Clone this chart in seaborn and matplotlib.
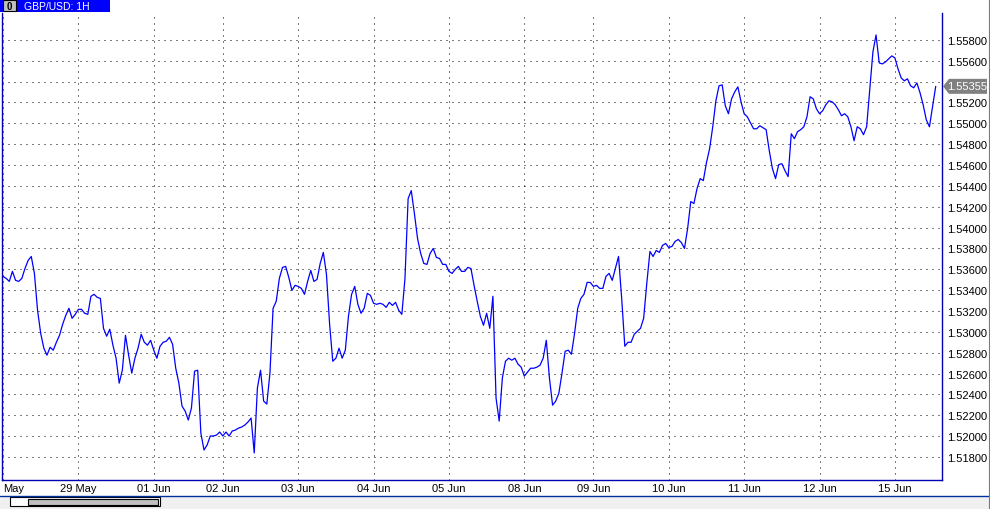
# %% GBP/USD 1H chart, terminal style
import numpy as np
import pandas as pd
import matplotlib
matplotlib.use('Agg')
import matplotlib.pyplot as plt
import seaborn as sns
from matplotlib.patches import Rectangle, Polygon
from matplotlib.transforms import IdentityTransform

# %% Hourly closes, one list per trading day
d2805 = [1.53532, 1.53513, 1.53484, 1.53580, 1.53494, 1.53484, 1.53513, 1.53608,
         1.53685, 1.53723, 1.53561, 1.53207, 1.52986, 1.52843, 1.52776, 1.52852,
         1.52824, 1.52900, 1.52967, 1.53073, 1.53159, 1.53226, 1.53130, 1.53168]
d2905 = [1.53216, 1.53216, 1.53178, 1.53168, 1.53341, 1.53360, 1.53331, 1.53321,
         1.53034, 1.52958, 1.53025, 1.52872, 1.52747, 1.52508, 1.52632, 1.52967,
         1.52776, 1.52604, 1.52747, 1.52843, 1.52977, 1.52900, 1.52872, 1.52919]
d0106 = [1.52824, 1.52747, 1.52862, 1.52900, 1.52910, 1.52948, 1.52881, 1.52651,
         1.52508, 1.52288, 1.52240, 1.52154, 1.52269, 1.52623, 1.52632, 1.52029,
         1.51867, 1.51915, 1.52001, 1.52001, 1.52010, 1.52039]
d0206 = [1.52001, 1.52039, 1.52001, 1.52049, 1.52058, 1.52077, 1.52087, 1.52106,
         1.52135, 1.52173, 1.51838, 1.52460, 1.52632, 1.52336, 1.52307, 1.52604,
         1.53226, 1.53293, 1.53513, 1.53618, 1.53628, 1.53522, 1.53398, 1.53446]
d0306 = [1.53436, 1.53417, 1.53360, 1.53484, 1.53589, 1.53484, 1.53503, 1.53656,
         1.53762, 1.53551, 1.53073, 1.52718, 1.52747, 1.52843, 1.52747, 1.52824,
         1.53149, 1.53360, 1.53436, 1.53264, 1.53178, 1.53226, 1.53369, 1.53350]
d0406 = [1.53274, 1.53264, 1.53274, 1.53264, 1.53235, 1.53283, 1.53254, 1.53283,
         1.53207, 1.53168, 1.53513, 1.54278, 1.54355, 1.54135, 1.53896, 1.53752,
         1.53656, 1.53647, 1.53752, 1.53800, 1.53714, 1.53704, 1.53647, 1.53647]
d0506 = [1.53580, 1.53561, 1.53599, 1.53628, 1.53580, 1.53580, 1.53618, 1.53608,
         1.53446, 1.53293, 1.53149, 1.53063, 1.53178, 1.53034, 1.53341, 1.52364,
         1.52144, 1.52556, 1.52718, 1.52747, 1.52728, 1.52747, 1.52690, 1.52661]
d0806 = [1.52575, 1.52613, 1.52651, 1.52651, 1.52661, 1.52680, 1.52747, 1.52919,
         1.52556, 1.52297, 1.52336, 1.52412, 1.52604, 1.52814, 1.52824, 1.52785,
         1.52986, 1.53226, 1.53321, 1.53360, 1.53474, 1.53474]
d0906 = [1.53436, 1.53446, 1.53417, 1.53417, 1.53532, 1.53561, 1.53494, 1.53608,
         1.53723, 1.53321, 1.52862, 1.52900, 1.52900, 1.52977, 1.53006, 1.53034,
         1.53130, 1.53465, 1.53771, 1.53723, 1.53781, 1.53762, 1.53829, 1.53848]
d1006 = [1.53809, 1.53819, 1.53867, 1.53886, 1.53857, 1.53800, 1.53991, 1.54250,
         1.54231, 1.54374, 1.54470, 1.54451, 1.54623, 1.54757, 1.54967, 1.55216,
         1.55360, 1.55369, 1.55168, 1.55092, 1.55235, 1.55302, 1.55350, 1.55207]
d1106 = [1.55092, 1.55063, 1.55006, 1.54948, 1.54948, 1.54977, 1.54958, 1.54939,
         1.54738, 1.54566, 1.54470, 1.54604, 1.54613, 1.54546, 1.54489, 1.54900,
         1.54853, 1.54920, 1.54939, 1.54967, 1.55063, 1.55255, 1.55235, 1.55140]
d1206 = [1.55092, 1.55121, 1.55178, 1.55216, 1.55207, 1.55178, 1.55130, 1.55073,
         1.55092, 1.55063, 1.54967, 1.54833, 1.54967, 1.54948, 1.54891, 1.54967,
         1.55331, 1.55685, 1.55848, 1.55580, 1.55570, 1.55589, 1.55618, 1.55647]
d1506 = [1.55628, 1.55522, 1.55436, 1.55408, 1.55427, 1.55360, 1.55341, 1.55388,
         1.55293, 1.55178, 1.55034, 1.54967, 1.55159, 1.55355]

days = [d2805, d2905, d0106, d0206, d0306, d0406, d0506, d0806, d0906, d1006, d1106, d1206, d1506]
day_labels = ['May', '29 May', '01 Jun', '02 Jun', '03 Jun', '04 Jun', '05 Jun',
              '08 Jun', '09 Jun', '10 Jun', '11 Jun', '12 Jun', '15 Jun']
price_ticks = np.arange(1.518, 1.5581, 0.002)

close = np.concatenate(days)
df = pd.DataFrame({'bar': np.arange(len(close)), 'close': close})
day_starts = np.cumsum([0] + [len(d) for d in days[:-1]])

# %% Figure
W, H = 990, 510
sns.set_style('white')
plt.rcParams['font.family'] = ['Liberation Sans', 'DejaVu Sans']

fig = plt.figure(figsize=(W / 100, H / 100), dpi=100, facecolor='white')
ax = fig.add_axes([2 / W, 29 / H, 940 / W, 467 / H])

sns.lineplot(data=df, x='bar', y='close', ax=ax, color='#0000ff', linewidth=0.9)

ax.set_xlim(-0.32, 299.0)
ax.set_ylim(1.515789, 1.560584)
ax.set_xlabel('')
ax.set_ylabel('')

# right price scale
ax.yaxis.tick_right()
ax.set_yticks(price_ticks)
ax.set_yticklabels(['{:.5f}'.format(v) for v in price_ticks])
ax.tick_params(axis='y', length=0, pad=3.6, labelsize=8, colors='black')

# day separators
ax.set_xticks(day_starts)
ax.set_xticklabels(day_labels)
ax.tick_params(axis='x', length=0, pad=2, labelsize=8, colors='black')
ax.get_xticklabels()[0].set_horizontalalignment('left')

ax.grid(True, color='black', linestyle=(0, (1, 5)), linewidth=0.72)

for side in ['left', 'right', 'bottom']:
    ax.spines[side].set_color('#0000b0')
    ax.spines[side].set_linewidth(1.0)
ax.spines['top'].set_visible(False)

# %% Window chrome
# title bar
fig.patches.append(Rectangle((0, 1 - 13 / H), 110 / W, 13 / H, transform=fig.transFigure,
                             facecolor='#0000ff', edgecolor='none'))
fig.patches.append(Rectangle((3 / W, 1 - 12 / H), 13 / W, 11 / H, transform=fig.transFigure,
                             facecolor='#c0c0c0', edgecolor='black', linewidth=0.8))
fig.text(9.5 / W, 1 - 6.5 / H, '0', color='black', fontsize=7, fontweight='bold',
         ha='center', va='center')
fig.text(24 / W, 1 - 6.5 / H, 'GBP/USD: 1H', color='white', fontsize=7.5, ha='left', va='center')

# scroll bar area
fig.patches.append(Rectangle((0, 0), 1, 13 / H, transform=fig.transFigure,
                             facecolor='#f0f0f0', edgecolor='none'))
fig.add_artist(plt.Line2D([0, 1], [13.5 / H, 13.5 / H], transform=fig.transFigure,
                          color='#0030a0', linewidth=1.0))
fig.add_artist(plt.Line2D([988.5 / W, 988.5 / W], [0, 1], transform=fig.transFigure,
                          color='#5080c0', linewidth=0.8))
fig.patches.append(Rectangle((10 / W, 3 / H), 150 / W, 9 / H, transform=fig.transFigure,
                             facecolor='white', edgecolor='black', linewidth=0.8))
fig.patches.append(Rectangle((28 / W, 4.5 / H), 130 / W, 6 / H, transform=fig.transFigure,
                             facecolor='#c0c0c0', edgecolor='black', linewidth=0.8))

# current price marker on the scale (covers the 1.55400 label, as in the terminal)
last = close[-1]
fig.canvas.draw()
yp = ax.transData.transform((0, last))[1]
xr = ax.transAxes.transform((1, 0))[0]
marker = Polygon([(xr + 1, yp), (xr + 7, yp + 7.5), (xr + 45, yp + 7.5),
                  (xr + 45, yp - 7.5), (xr + 7, yp - 7.5)], closed=True,
                 transform=IdentityTransform(), facecolor='#808080', edgecolor='none', zorder=10)
fig.add_artist(marker)
fig.text((xr + 5.5) / W, yp / H, '{:.5f}'.format(last), color='white', fontsize=8,
         ha='left', va='center', zorder=11)

plt.savefig('out.png', dpi=100, facecolor='white')
